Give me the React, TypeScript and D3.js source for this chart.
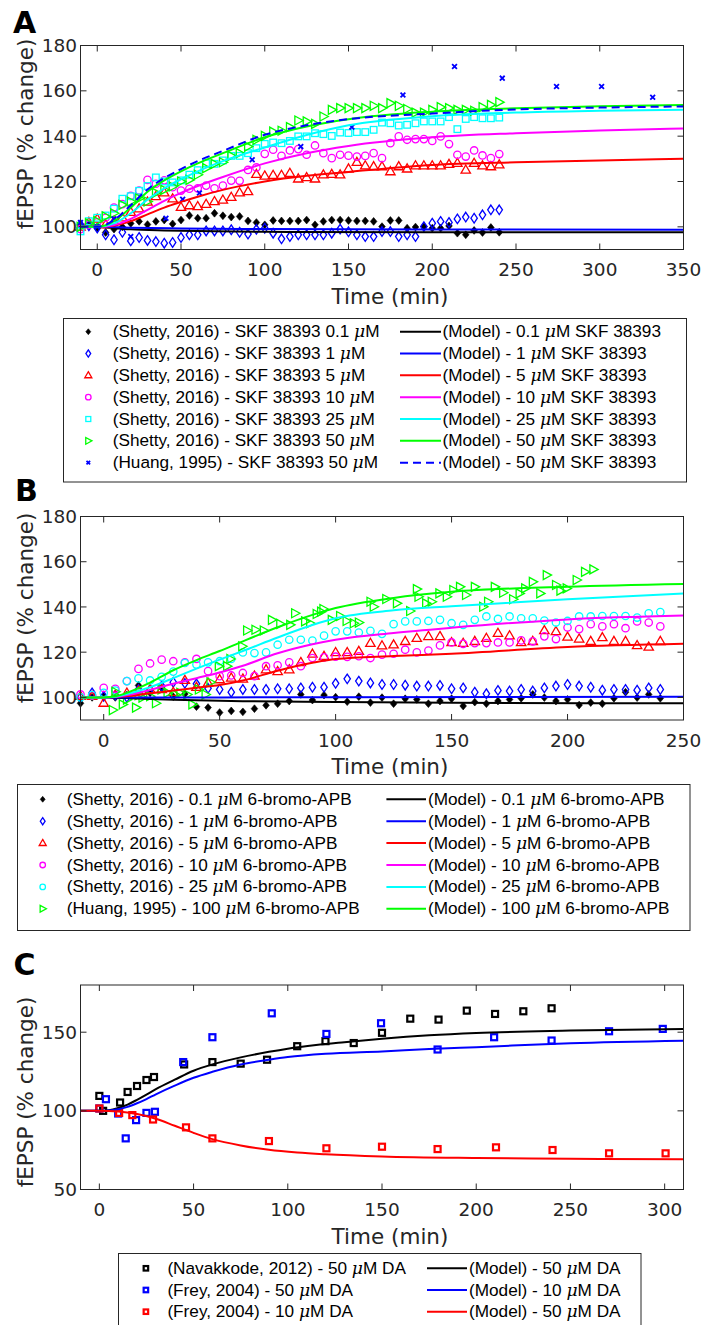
import React from 'react';
import * as d3 from 'd3';

type Pt = [number, number];

// ---------------- colours ----------------
const BLACK = '#000000';
const BLUE = '#0000ff';
const RED = '#ff0000';
const MAG = '#ff00ff';
const CYAN = '#00ffff';
const GREEN = '#00ff00';

// ---------------- Panel A : SKF 38393 ----------------
const aXTicks = [0, 50, 100, 150, 200, 250, 300, 350];
const aYTicks = [100, 120, 140, 160, 180];

const aShetty01: Pt[] = [[-10,100.5],[-5,101],[0,99.5],[5,97.5],[10,99],[15,100],[20,101.5],[25,102.4],[30,101],[35,102.4],[40,103],[45,101.3],[50,103],[55,105],[60,103.8],[65,103.8],[70,106],[75,104.9],[80,104.3],[85,104.6],[90,102.6],[95,101.9],[100,100.9],[105,102.8],[110,102.6],[115,102.6],[120,102.6],[125,103],[130,100.9],[135,102.4],[140,103],[145,103],[150,102.8],[155,102.6],[160,102.6],[165,102.4],[170,100.1],[175,102.8],[180,102.8],[185,99.4],[190,99.9],[195,100.1],[200,99.4],[205,99.4],[210,100.4],[215,97.2],[220,96.5],[225,98.4],[230,97.5],[235,99.7],[240,97.6]];
const aShetty1: Pt[] = [[-10,101],[-5,100.5],[0,99.5],[5,96.5],[10,94.3],[15,97.6],[20,93.8],[25,95.3],[30,94],[35,93.5],[40,92.8],[45,93.1],[50,95.3],[55,96.5],[60,96.5],[65,98.2],[70,98.2],[75,98.2],[80,98.7],[85,97.6],[90,96.8],[95,98.9],[100,99.4],[105,97.2],[110,94.7],[115,95.7],[120,96.5],[125,96.5],[130,96.5],[135,96.5],[140,97.2],[145,99],[150,97.8],[155,96.5],[160,95.7],[165,95.7],[170,97.9],[175,97.9],[180,95.7],[185,96.5],[190,95.7],[195,100.1],[200,101.6],[205,102.4],[210,101.9],[215,103.5],[220,104.3],[225,103.8],[230,105.3],[235,107.5],[240,107.5]];
const aShetty5: Pt[] = [[-10,100],[-5,102],[0,103.5],[5,101],[10,102.5],[15,104],[20,106.5],[25,108],[30,111],[35,113.4],[40,115.1],[45,112.4],[50,108.7],[55,109.4],[60,109],[65,110],[70,111.2],[75,111.9],[80,113.1],[85,115.1],[90,115.6],[95,123.2],[100,122.5],[105,122.8],[110,122.8],[115,123.7],[120,121.2],[125,121.8],[130,121.2],[135,123],[140,123.2],[145,123],[150,125.6],[155,128.5],[160,127],[165,126.6],[170,126.6],[175,124.4],[180,126.6],[185,125.6],[190,127],[195,127],[200,127],[205,127],[210,127.6],[215,128.1],[220,125.1],[225,128.1],[230,127],[235,126.6],[240,127.4]];
const aShetty10: Pt[] = [[-10,99],[-5,101],[0,102],[5,104],[10,108.5],[15,110],[20,113.7],[25,116],[30,120.7],[35,119],[40,120.5],[45,117.5],[50,116],[55,116.8],[60,117],[65,118.2],[70,117],[75,118.2],[80,120.4],[85,120.3],[90,125.1],[95,126.2],[100,132.2],[105,134],[110,131.3],[115,133.7],[120,134.3],[125,131.8],[130,135.9],[135,132.5],[140,130.3],[145,131.8],[150,131.4],[155,131],[160,131.3],[165,132.5],[170,130.3],[175,136.9],[180,139.9],[185,138.4],[190,138.7],[195,138.7],[200,137.9],[205,139.9],[210,136.5],[215,131.8],[220,131],[225,133.7],[230,131.5],[235,130.3],[240,132.1]];
const aShetty25: Pt[] = [[-10,98],[-5,102.5],[0,104],[5,105],[10,108],[15,112.4],[20,113.5],[25,115.9],[30,118],[35,121.8],[40,120],[45,119.6],[50,120.5],[55,123],[60,125],[65,128],[70,127.8],[75,129.3],[80,131.3],[85,131.3],[90,132.5],[95,134.7],[100,136.6],[105,137.2],[110,136.9],[115,137.9],[120,139.9],[125,139.9],[130,141.3],[135,140.9],[140,140.1],[145,141.6],[150,141.4],[155,141.8],[160,141.8],[165,142.8],[170,146],[175,145.7],[180,144.7],[185,145],[190,145.7],[195,146.5],[200,146.5],[205,146.5],[210,148.4],[215,143.1],[220,147.6],[225,148.4],[230,147.9],[235,147.9],[240,148.2]];
const aShetty50: Pt[] = [[-10,100],[-5,101.5],[0,102.5],[5,104.6],[10,106],[15,109.7],[20,111.2],[25,112.5],[30,111.2],[35,115],[40,116.3],[45,117.8],[50,120],[55,120.7],[60,123],[65,125.9],[70,127.8],[75,128.5],[80,131.3],[85,132.5],[90,135.4],[95,138.4],[100,140.1],[105,142],[110,142.4],[115,144],[120,146.9],[125,146.5],[130,145.4],[135,148.7],[140,151.6],[145,152.4],[150,152.4],[155,152.4],[160,152.4],[165,153.4],[170,152.4],[175,154.6],[180,153.4],[185,152],[190,150.4],[195,150.4],[200,151.6],[205,152.8],[210,152.4],[215,151.6],[220,151.6],[225,151.2],[230,152.8],[235,153.8],[240,155]];
const aHuang50: Pt[] = [[-10,101.9],[0,100],[10,103.5],[20,95.7],[41,103.8],[51,112.2],[61,114.9],[92.5,129.6],[121.5,135.4],[152,144],[182.5,158.2],[213.3,170.7],[241.8,165.6],[274.2,161.9],[301.1,161.9],[331.6,157.2]];

const aModel01: Pt[] = [[-10,100],[0,100],[10,99.4],[20,98.9],[40,98.4],[70,98],[100,97.8],[200,97.6],[350,97.6]];
const aModel1: Pt[] = [[-10,100],[0,100],[20,99.6],[50,99.3],[100,99],[200,98.8],[350,98.7]];
const aModel5: Pt[] = [[-10,100],[0,100],[10,100.5],[20,102.5],[30,105.5],[40,108.5],[50,111],[60,113.3],[75,116.3],[100,120],[125,122.5],[150,124.2],[200,127.3],[250,128.5],[300,129.3],[350,130]];
const aModel10: Pt[] = [[-10,100],[0,100],[10,100.8],[20,103.5],[30,107.5],[40,111.5],[50,115],[60,118],[75,122],[100,128],[125,132.5],[150,135.7],[200,139.5],[250,141.3],[300,142.5],[350,143.4]];
const aModel25: Pt[] = [[-10,100],[0,100],[10,101.5],[20,106],[30,112],[40,117],[50,121],[60,124.5],[75,129],[100,135],[125,140.5],[150,144.8],[200,148.8],[250,150.4],[300,151.2],[350,151.7]];
const aModel50: Pt[] = [[-10,100],[0,100],[10,102.5],[20,108.5],[30,115.5],[40,120.5],[50,124.5],[60,128],[75,132.5],[100,139.5],[125,144.3],[150,147.5],[200,150.8],[250,152.3],[300,153.2],[350,153.8]];
const aModelHuang: Pt[] = [[-10,100],[0,100],[10,103],[20,109.5],[30,116.5],[40,121.5],[50,125.5],[60,129],[75,133.5],[100,140.6],[125,144.8],[150,147.5],[200,150],[250,151.8],[300,152.6],[350,153.1]];

const aDataLabels = [
  '(Shetty, 2016) - SKF 38393 0.1 μM',
  '(Shetty, 2016) - SKF 38393 1 μM',
  '(Shetty, 2016) - SKF 38393 5 μM',
  '(Shetty, 2016) - SKF 38393 10 μM',
  '(Shetty, 2016) - SKF 38393 25 μM',
  '(Shetty, 2016) - SKF 38393 50 μM',
  '(Huang, 1995) - SKF 38393 50 μM',
];
const aModelLabels = [
  '(Model) - 0.1 μM SKF 38393',
  '(Model) - 1 μM SKF 38393',
  '(Model) - 5 μM SKF 38393',
  '(Model) - 10 μM SKF 38393',
  '(Model) - 25 μM SKF 38393',
  '(Model) - 50 μM SKF 38393',
  '(Model) - 50 μM SKF 38393',
];

// ---------------- Panel B : 6-bromo-APB ----------------
const bXTicks = [0, 50, 100, 150, 200, 250];
const bYTicks = [100, 120, 140, 160, 180];

const bShetty01: Pt[] = [[-10,97.4],[-5,100],[0,100.5],[5,100],[10,101],[15,105.3],[20,102],[25,104.2],[30,100.3],[35,101.5],[40,95.9],[45,95.5],[50,93.3],[55,94],[60,93.6],[65,95],[70,96.5],[75,97.2],[80,98.4],[85,101.3],[90,98.8],[95,101],[100,100.1],[105,98.1],[110,100.3],[115,97.7],[120,99.9],[125,97.2],[130,99.4],[135,99.1],[140,97.2],[145,98.4],[150,99.4],[155,96.2],[160,97.9],[165,97.2],[170,98.4],[175,99.1],[180,99.6],[185,101.3],[190,99.9],[195,98.4],[200,99.1],[205,96.6],[210,97.7],[215,97.2],[220,99.6],[225,102.3],[230,99.9],[235,101.3],[240,99.6]];
const bShetty1: Pt[] = [[-10,100],[-5,102],[0,100.5],[5,101],[10,100],[15,103.5],[20,103.5],[25,105],[30,106.7],[35,106.2],[40,106],[45,104],[50,103.5],[55,102.3],[60,103.5],[65,103.5],[70,103.5],[75,103.8],[80,103.8],[85,104.2],[90,104.5],[95,104.5],[100,106.2],[105,108.2],[110,107.2],[115,106.4],[120,105.7],[125,105.7],[130,105.4],[135,105],[140,105],[145,105.3],[150,103.8],[155,104.2],[160,102.3],[165,101.6],[170,103.1],[175,102.8],[180,103.5],[185,102.8],[190,104.2],[195,105],[200,105.7],[205,105],[210,104.5],[215,103.2],[220,103.5],[225,103.5],[230,103.2],[235,104.2],[240,103.5]];
const bShetty5: Pt[] = [[-10,100.5],[-5,100.5],[0,97.5],[5,101],[10,102],[15,102.8],[20,103.5],[25,103.5],[30,102.3],[35,107.6],[40,104.5],[45,106.4],[50,107.9],[55,108.6],[60,108.2],[65,109.5],[70,112.3],[75,111.5],[80,112.3],[85,115.5],[90,119.2],[95,118.2],[100,119.9],[105,119.9],[110,120.4],[115,124],[120,122.9],[125,123.3],[130,124.8],[135,126.2],[140,127],[145,127],[150,124.3],[155,124],[160,124.8],[165,126.2],[170,128.4],[175,127.3],[180,124.3],[185,124.8],[190,129.6],[195,129.2],[200,126.7],[205,125.9],[210,124.8],[215,126.5],[220,124.8],[225,124.8],[230,123],[235,122.3],[240,124.8]];
const bShetty10: Pt[] = [[-10,101.3],[-5,100.9],[0,104.2],[5,103.8],[10,107.2],[15,112.6],[20,115],[25,116.7],[30,116],[35,115.5],[40,117],[45,111.6],[50,109.4],[55,109.7],[60,110.8],[65,109.4],[70,113.8],[75,114.2],[80,115.5],[85,113.8],[90,117.4],[95,117.7],[100,118],[105,117.9],[110,118.2],[115,117.4],[120,118.9],[125,119.3],[130,121.1],[135,119.9],[140,120.7],[145,123],[150,124.3],[155,123.7],[160,124],[165,124],[170,124.3],[175,124.3],[180,125.2],[185,124.8],[190,127],[195,125.8],[200,130.9],[205,130.2],[210,132.4],[215,131.4],[220,132.4],[225,130.6],[230,133.6],[235,133.1],[240,131.4]];
const bShetty25: Pt[] = [[-10,100],[-5,101],[0,102],[5,103],[10,107.2],[15,108.4],[20,107.5],[25,109.1],[30,111.4],[35,115.2],[40,114.5],[45,115.5],[50,116],[55,117],[60,119.9],[65,119.6],[70,119.9],[75,123.3],[80,125.5],[85,125.5],[90,125.1],[95,127.3],[100,129.2],[105,129.2],[110,128.7],[115,129.4],[120,128.1],[125,132.4],[130,133.6],[135,133.6],[140,133.8],[145,134.3],[150,132.8],[155,132.1],[160,134.3],[165,135.8],[170,134.7],[175,135.8],[180,135],[185,135],[190,134],[195,133.1],[200,133.8],[205,135.8],[210,135.8],[215,136],[220,136],[225,136],[230,135.3],[235,137.2],[240,137.7]];
const bHuang100: Pt[] = [[3.9,94.4],[5,102.5],[8.2,96.9],[10,99],[13.9,95.5],[15,101],[16.7,99.9],[20,100.5],[22.5,97.4],[24.9,103.5],[27.5,102],[30.8,101.3],[33,102],[36,101.3],[38.2,96.9],[41,103.5],[43.9,101.3],[46,106.7],[49.6,113.8],[53.2,113.8],[54.6,117],[59.7,122.6],[61.8,129.6],[65.4,129.9],[69,129.6],[72.5,134.3],[76.1,132.5],[80.4,132.1],[82.5,137.2],[86.8,133.6],[89,132.8],[91.8,136.9],[93.7,137.9],[94.7,139.1],[98.3,134.3],[101.9,136],[104.7,133.8],[107.8,132.8],[110,133.1],[115,142.3],[116.4,140.1],[121.8,143.5],[126.4,141.6],[132.1,138.2],[135,147.9],[135.7,144.5],[139,141.6],[141.4,142.3],[144.7,146],[147.9,144.5],[150.7,147.5],[153.6,148.9],[156.2,145.3],[160,148.9],[163.6,140.1],[165.7,142.3],[168.6,148.9],[172.2,146.3],[176.5,143.4],[179.3,146],[181.7,148.2],[185,151.1],[188.2,146],[191,154.1],[195,149.7],[196.9,147.2],[199.6,148.2],[203.9,151.9],[207.5,155.5],[211.1,156.6]];

const bModel01: Pt[] = [[-10,100],[0,100],[15,99.5],[30,99],[60,98.3],[100,98],[150,97.6],[250,97.4]];
const bModel1: Pt[] = [[-10,100],[0,100],[50,100],[100,100.1],[250,100.3]];
const bModel5: Pt[] = [[-10,100],[0,100],[10,100.5],[20,101.8],[30,103],[40,104.3],[50,105.5],[60,107.5],[75,111.8],[90,115.3],[100,117],[125,118.3],[150,119.3],[200,122.3],[250,123.7]];
const bModel10: Pt[] = [[-10,100],[0,100],[5,100.2],[10,101],[20,103.3],[30,106],[40,108.5],[50,111],[60,114],[75,119.5],[90,123.5],[100,125.5],[125,128.5],[150,130.8],[200,134.5],[250,136.2]];
const bModel25: Pt[] = [[-10,100],[0,100],[5,100.3],[10,101.5],[20,104.5],[30,108.5],[40,112.7],[50,116.7],[60,120.5],[75,126.5],[90,132],[100,135],[125,138.5],[150,140.3],[200,143.4],[250,146]];
const bModel100: Pt[] = [[-10,100],[0,100],[5,100.5],[10,102],[20,106.5],[30,112],[40,116.5],[50,120.5],[60,124.8],[75,131],[90,136.5],[100,139.5],[125,144],[150,146.7],[200,148.9],[250,150.1]];

const bDataLabels = [
  '(Shetty, 2016) - 0.1 μM 6-bromo-APB',
  '(Shetty, 2016) - 1 μM 6-bromo-APB',
  '(Shetty, 2016) - 5 μM 6-bromo-APB',
  '(Shetty, 2016) - 10 μM 6-bromo-APB',
  '(Shetty, 2016) - 25 μM 6-bromo-APB',
  '(Huang, 1995) - 100 μM 6-bromo-APB',
];
const bModelLabels = [
  '(Model) - 0.1 μM 6-bromo-APB',
  '(Model) - 1 μM 6-bromo-APB',
  '(Model) - 5 μM 6-bromo-APB',
  '(Model) - 10 μM 6-bromo-APB',
  '(Model) - 25 μM 6-bromo-APB',
  '(Model) - 100 μM 6-bromo-APB',
];

// ---------------- Panel C : dopamine ----------------
const cXTicks = [0, 50, 100, 150, 200, 250, 300];
const cYTicks = [50, 100, 150];

const cNavakkode50: Pt[] = [[0,109.5],[2,100],[11,105.3],[15,112],[20,115.8],[25,119.6],[29,121.5],[45,129.5],[60,131],[75,130],[89,132.5],[105,141.1],[120,144.3],[135,143.1],[150,149.6],[165,158.6],[180,158],[195,163.7],[210,161.6],[225,163.3],[240,165.2]];
const cFrey50: Pt[] = [[0,101.5],[3.5,107.4],[10,98.3],[14,82.5],[19.5,94.1],[25,98.7],[29.5,99.4],[44.5,131],[60,146.8],[91.5,162],[120.5,148.9],[149.5,155.7],[179.5,139],[209.5,146.8],[240,144.7],[270.5,150.6],[299,152.1]];
const cFrey10: Pt[] = [[0,101.5],[10.5,98.7],[17.5,97.3],[28.5,94.5],[46,89.5],[60,82.5],[90,80.8],[120.5,76.2],[150,77.2],[179.5,75.7],[210.5,76.8],[240.5,75.1],[270.5,73],[300.5,73]];

const cModelBlack: Pt[] = [[-10,100],[0,100],[5,100.4],[10,101.8],[15,104],[20,107],[25,110.3],[30,113.8],[40,119.8],[50,125.5],[60,129.5],[75,134],[90,137.5],[100,139.5],[115,141.8],[130,143.6],[150,145.8],[175,148],[200,149.5],[250,151],[310,152.1]];
const cModelBlue: Pt[] = [[-10,100],[0,100],[5,100.2],[10,101],[15,102.5],[20,104.8],[25,107.5],[30,110.5],[40,116],[50,121],[60,124.8],[75,129.5],[90,132.5],[100,134.2],[120,136.3],[150,137.8],[175,139.3],[200,140.5],[250,143],[310,144.6]];
const cModelRed: Pt[] = [[-10,100],[0,100],[10,99.6],[20,98],[30,95],[40,90.5],[50,86],[60,82],[75,78],[90,75.2],[105,73.5],[120,72.4],[150,71],[200,70],[250,69.5],[310,69.2]];

const cDataLabels = [
  '(Navakkode, 2012) - 50 μM DA',
  '(Frey, 2004) - 50 μM DA',
  '(Frey, 2004) - 10 μM DA',
];
const cModelLabels = [
  '(Model) - 50 μM DA',
  '(Model) - 10 μM DA',
  '(Model) - 50 μM DA',
];

// ---------------- drawing helpers ----------------
const X0 = 80.5;
const X1 = 683.5;
const AX = '#262626';
const TICK_FONT = 'DejaVu Sans';
const LEG_FONT = '"Liberation Sans", Arial, sans-serif';

type MarkerType = 'fdiamond' | 'diamond' | 'triup' | 'circle' | 'square' | 'triright' | 'x' | 'sqC';

function Marker({ type, x, y, color, k = 1 }: { type: MarkerType; x: number; y: number; color: string; k?: number }) {
  const t = `translate(${x},${y})`;
  const sw = 1.3;
  switch (type) {
    case 'fdiamond':
      return <path transform={t} d={`M0,${-3.9 * k}L${3.3 * k},0L0,${3.9 * k}L${-3.3 * k},0Z`} fill={color} stroke={color} strokeWidth={0.6} />;
    case 'diamond':
      return <path transform={t} d={`M0,${-4.8 * k}L${3.2 * k},0L0,${4.8 * k}L${-3.2 * k},0Z`} fill="none" stroke={color} strokeWidth={sw} />;
    case 'triup':
      return <path transform={t} d={`M0,${-4.9 * k}L${4.7 * k},${3.2 * k}L${-4.7 * k},${3.2 * k}Z`} fill="none" stroke={color} strokeWidth={sw} />;
    case 'circle':
      return <circle cx={x} cy={y} r={3.7 * k} fill="none" stroke={color} strokeWidth={sw} />;
    case 'square':
      return <rect x={x - 3.3 * k} y={y - 3.3 * k} width={6.6 * k} height={6.6 * k} fill="none" stroke={color} strokeWidth={sw} />;
    case 'triright':
      return <path transform={t} d={`M${-3.4 * k},${-4.5 * k}L${4.9 * k},0L${-3.4 * k},${4.5 * k}Z`} fill="none" stroke={color} strokeWidth={sw} />;
    case 'x':
      return <path transform={t} d={`M${-2.4 * k},${-2.4 * k}L${2.4 * k},${2.4 * k}M${-2.4 * k},${2.4 * k}L${2.4 * k},${-2.4 * k}`} stroke={color} strokeWidth={1.8} />;
    case 'sqC':
      return <rect x={x - 3 * k} y={y - 3 * k} width={6 * k} height={6 * k} fill="none" stroke={color} strokeWidth={2.2} />;
  }
  return null;
}

function MuText({ x, y, text, size = 17.2 }: { x: number; y: number; text: string; size?: number }) {
  const parts = text.split('μ');
  return (
    <text x={x} y={y} fontFamily={LEG_FONT} fontSize={size} fill="#000">
      {parts.map((p, i) => (
        <React.Fragment key={i}>
          {i > 0 && <tspan fontFamily="'DejaVu Serif', serif" fontStyle="italic">μ</tspan>}
          {p}
        </React.Fragment>
      ))}
    </text>
  );
}

interface DataSeries { points: Pt[]; marker: MarkerType; color: string; }
interface ModelSeries { points: Pt[]; color: string; dash?: boolean; }
interface LegendCfg {
  box: [number, number, number, number];
  row0: number; rowStep: number;
  markerX: number; textX: number; lineX1: number; lineX2: number; modelTextX: number;
  dataLabels: string[]; modelLabels: string[];
}
interface PanelCfg {
  id: string; letter: string; letterY: number; letterX: number;
  xDomain: [number, number]; yDomain: [number, number];
  top: number; bottom: number;
  xTicks: number[]; yTicks: number[];
  yLabelY: number;
  data: DataSeries[]; models: ModelSeries[];
  legend: LegendCfg;
}

function Panel({ cfg }: { cfg: PanelCfg }) {
  const x = d3.scaleLinear().domain(cfg.xDomain).range([X0, X1]);
  const y = d3.scaleLinear().domain(cfg.yDomain).range([cfg.bottom, cfg.top]);
  const line = d3.line<Pt>().x((d) => x(d[0])).y((d) => y(d[1])).curve(d3.curveMonotoneX);
  const clipId = 'clip-' + cfg.id;
  const lg = cfg.legend;
  const tickLen = 6;
  return (
    <g>
      <defs>
        <clipPath id={clipId}>
          <rect x={X0} y={cfg.top} width={X1 - X0} height={cfg.bottom - cfg.top} />
        </clipPath>
      </defs>
      {/* data markers */}
      <g>
        {cfg.data.map((s, i) =>
          s.points.map((p, j) => (
            <Marker key={`${i}-${j}`} type={s.marker} color={s.color} x={x(p[0])} y={y(p[1])} />
          ))
        )}
      </g>
      {/* model curves */}
      <g clipPath={`url(#${clipId})`}>
        {cfg.models.map((m, i) => (
          <path key={i} d={line(m.points) || ''} fill="none" stroke={m.color} strokeWidth={2}
            strokeDasharray={m.dash ? '8,5' : undefined} />
        ))}
      </g>
      {/* axes box and ticks */}
      <g>
        {cfg.xTicks.map((t) => (
          <g key={'xt' + t}>
            <line x1={x(t)} x2={x(t)} y1={cfg.bottom} y2={cfg.bottom - tickLen} stroke={AX} />
            <line x1={x(t)} x2={x(t)} y1={cfg.top} y2={cfg.top + tickLen} stroke={AX} />
            <text x={x(t)} y={cfg.bottom + 26.5} textAnchor="middle" fontFamily={TICK_FONT} fontSize={18.5} fill={AX}>{t}</text>
          </g>
        ))}
        {cfg.yTicks.map((t) => (
          <g key={'yt' + t}>
            <line x1={X0} x2={X0 + tickLen} y1={y(t)} y2={y(t)} stroke={AX} />
            <line x1={X1} x2={X1 - tickLen} y1={y(t)} y2={y(t)} stroke={AX} />
            <text x={77} y={y(t) + 6.6} textAnchor="end" fontFamily={TICK_FONT} fontSize={18.5} fill={AX}>{t}</text>
          </g>
        ))}
        <rect x={X0} y={cfg.top} width={X1 - X0} height={cfg.bottom - cfg.top} fill="none" stroke={AX} strokeWidth={1} />
      </g>
      {/* labels */}
      <text x={cfg.letterX} y={cfg.letterY} fontFamily="DejaVu Sans" fontWeight="bold" fontSize={30} fill="#000">{cfg.letter}</text>
      <text transform={`translate(33,${cfg.yLabelY}) rotate(-90)`} textAnchor="middle" fontFamily={TICK_FONT} fontSize={21.5} fill={AX}>fEPSP (% change)</text>
      <text x={390} y={cfg.bottom + 54} textAnchor="middle" fontFamily={TICK_FONT} fontSize={21.5} fill={AX}>Time (min)</text>
      {/* legend */}
      <g>
        <rect x={lg.box[0]} y={lg.box[1]} width={lg.box[2]} height={lg.box[3]} fill="#fff" stroke={AX} strokeWidth={1} />
        {lg.dataLabels.map((lab, i) => {
          const cy = lg.row0 + i * lg.rowStep;
          const s = cfg.data[i];
          return (
            <g key={'ld' + i}>
              <Marker type={s.marker} color={s.color} x={lg.markerX} y={cy} k={0.75} />
              <MuText x={lg.textX} y={cy + 5.5} text={lab} />
            </g>
          );
        })}
        {lg.modelLabels.map((lab, i) => {
          const cy = lg.row0 + i * lg.rowStep;
          const m = cfg.models[i];
          return (
            <g key={'lm' + i}>
              <line x1={lg.lineX1} x2={lg.lineX2} y1={cy} y2={cy} stroke={m.color} strokeWidth={2}
                strokeDasharray={m.dash ? '8,5' : undefined} />
              <MuText x={lg.modelTextX} y={cy + 5.5} text={lab} />
            </g>
          );
        })}
      </g>
    </g>
  );
}

const panelA: PanelCfg = {
  id: 'A', letter: 'A', letterX: 13, letterY: 33,
  xDomain: [-10, 350], yDomain: [90, 180], top: 45.5, bottom: 249.5,
  xTicks: aXTicks, yTicks: aYTicks, yLabelY: 134,
  data: [
    { points: aShetty01, marker: 'fdiamond', color: BLACK },
    { points: aShetty1, marker: 'diamond', color: BLUE },
    { points: aShetty5, marker: 'triup', color: RED },
    { points: aShetty10, marker: 'circle', color: MAG },
    { points: aShetty25, marker: 'square', color: CYAN },
    { points: aShetty50, marker: 'triright', color: GREEN },
    { points: aHuang50, marker: 'x', color: BLUE },
  ],
  models: [
    { points: aModel01, color: BLACK },
    { points: aModel1, color: BLUE },
    { points: aModel5, color: RED },
    { points: aModel10, color: MAG },
    { points: aModel25, color: CYAN },
    { points: aModel50, color: GREEN },
    { points: aModelHuang, color: BLUE, dash: true },
  ],
  legend: {
    box: [63.5, 318.5, 623, 163.5], row0: 331.7, rowStep: 21.83,
    markerX: 88.3, textX: 112.7, lineX1: 400, lineX2: 441, modelTextX: 442.5,
    dataLabels: aDataLabels, modelLabels: aModelLabels,
  },
};

const panelB: PanelCfg = {
  id: 'B', letter: 'B', letterX: 15, letterY: 500.5,
  xDomain: [-10, 250], yDomain: [90, 180], top: 516.5, bottom: 720,
  xTicks: bXTicks, yTicks: bYTicks, yLabelY: 608,
  data: [
    { points: bShetty01, marker: 'fdiamond', color: BLACK },
    { points: bShetty1, marker: 'diamond', color: BLUE },
    { points: bShetty5, marker: 'triup', color: RED },
    { points: bShetty10, marker: 'circle', color: MAG },
    { points: bShetty25, marker: 'circle', color: CYAN },
    { points: bHuang100, marker: 'triright', color: GREEN },
  ],
  models: [
    { points: bModel01, color: BLACK },
    { points: bModel1, color: BLUE },
    { points: bModel5, color: RED },
    { points: bModel10, color: MAG },
    { points: bModel25, color: CYAN },
    { points: bModel100, color: GREEN },
  ],
  legend: {
    box: [17.5, 784.5, 672.5, 146], row0: 799.3, rowStep: 21.9,
    markerX: 42.7, textX: 66.7, lineX1: 386.4, lineX2: 426, modelTextX: 428,
    dataLabels: bDataLabels, modelLabels: bModelLabels,
  },
};

const panelC: PanelCfg = {
  id: 'C', letter: 'C', letterX: 13.5, letterY: 974.5,
  xDomain: [-10, 310], yDomain: [50, 180], top: 985, bottom: 1189.5,
  xTicks: cXTicks, yTicks: cYTicks, yLabelY: 1092,
  data: [
    { points: cNavakkode50, marker: 'sqC', color: BLACK },
    { points: cFrey50, marker: 'sqC', color: BLUE },
    { points: cFrey10, marker: 'sqC', color: RED },
  ],
  models: [
    { points: cModelBlack, color: BLACK },
    { points: cModelBlue, color: BLUE },
    { points: cModelRed, color: RED },
  ],
  legend: {
    box: [118.5, 1253.5, 522.5, 90], row0: 1268.3, rowStep: 21.7,
    markerX: 145.9, textX: 167.4, lineX1: 427, lineX2: 467, modelTextX: 469,
    dataLabels: cDataLabels, modelLabels: cModelLabels,
  },
};

export default function App() {
  return (
    <svg width={704} height={1325} viewBox="0 0 704 1325"
      style={{ position: 'absolute', left: 0, top: 0, background: '#fff' }}>
      <rect x={0} y={0} width={704} height={1325} fill="#fff" />
      <Panel cfg={panelA} />
      <Panel cfg={panelB} />
      <Panel cfg={panelC} />
    </svg>
  );
}
